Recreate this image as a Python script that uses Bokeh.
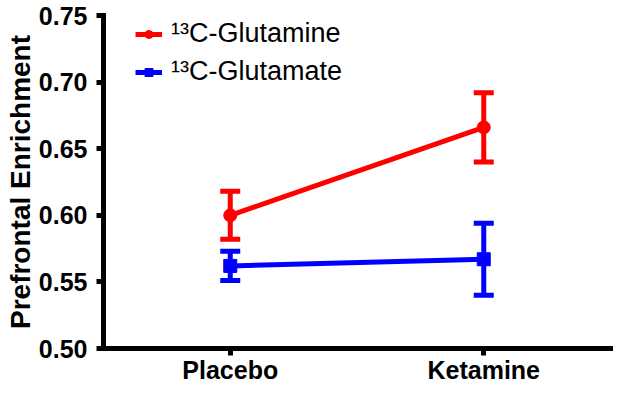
from bokeh.plotting import figure
from bokeh.models import (ColumnDataSource, Whisker, TeeHead, FixedTicker,
                          PrintfTickFormatter, Legend, LegendItem)
from bokeh.embed import file_html
from bokeh.resources import INLINE

# ---- data ----
groups = ["Placebo", "Ketamine"]
glutamine_mean = [0.600, 0.666]
glutamine_sem = [0.018, 0.026]
glutamate_mean = [0.562, 0.567]
glutamate_sem = [0.011, 0.027]
series_labels = ["\u00b9\u00b3C-Glutamine", "\u00b9\u00b3C-Glutamate"]
y_ticks = [0.50, 0.55, 0.60, 0.65, 0.70, 0.75]

FONT = "Liberation Sans"

p = figure(x_range=groups, y_range=(0.50, 0.75), width=618, height=386,
           output_backend="svg", toolbar_location=None,
           min_border_left=103, min_border_right=8, min_border_top=15,
           min_border_bottom=36)
p.outline_line_color = None
p.xgrid.visible = False
p.ygrid.visible = False
p.background_fill_color = "white"
p.border_fill_color = "white"

for ax in (p.xaxis[0], p.yaxis[0]):
    ax.axis_line_width = 5
    ax.axis_line_color = "black"
    ax.axis_line_cap = "square"
    ax.major_tick_line_width = 5
    ax.major_tick_line_color = "black"
    ax.major_tick_out = 7
    ax.major_tick_in = 0
    ax.minor_tick_out = 0
    ax.minor_tick_in = 0
    ax.major_label_text_font = FONT
    ax.major_label_text_font_style = "bold"
    ax.major_label_text_font_size = "25px"
    ax.major_label_text_color = "black"

p.xaxis[0].major_label_standoff = 0
p.yaxis[0].major_label_standoff = 9

yax = p.yaxis[0]
yax.ticker = FixedTicker(ticks=y_ticks)
yax.formatter = PrintfTickFormatter(format="%.2f")
yax.axis_label = "Prefrontal Enrichment"
yax.axis_label_text_font = FONT
yax.axis_label_text_font_style = "bold"
yax.axis_label_text_font_size = "28px"
yax.axis_label_text_color = "black"
yax.axis_label_standoff = 0


def add_series(means, sems, color, marker):
    src = ColumnDataSource(dict(
        x=groups,
        y=means,
        upper=[m + s for m, s in zip(means, sems)],
        lower=[m - s for m, s in zip(means, sems)],
    ))
    ln = p.line("x", "y", source=src, line_color=color, line_width=5)
    w = Whisker(base="x", upper="upper", lower="lower", source=src,
                line_color=color, line_width=5,
                upper_head=TeeHead(size=20, line_color=color, line_width=5),
                lower_head=TeeHead(size=20, line_color=color, line_width=5))
    p.add_layout(w)
    pts = p.scatter("x", "y", source=src, marker=marker, size=13,
                    fill_color=color, line_color=color)
    return ln, pts


glu_line, glu_pts = add_series(glutamate_mean, glutamate_sem, "#0000FF", "square")
gln_line, gln_pts = add_series(glutamine_mean, glutamine_sem, "#FF0000", "circle")

legend = Legend(items=[
    LegendItem(label=series_labels[0], renderers=[gln_line, gln_pts]),
    LegendItem(label=series_labels[1], renderers=[glu_line, glu_pts]),
], location=(32, 261), margin=0, padding=0, spacing=7,
    glyph_width=27, glyph_height=20, label_standoff=9,
    label_text_font=FONT, label_text_font_size="27px",
    label_text_color="black",
    border_line_color=None, background_fill_alpha=0)
p.add_layout(legend)

open("out.html", "w").write(file_html(p, INLINE))
